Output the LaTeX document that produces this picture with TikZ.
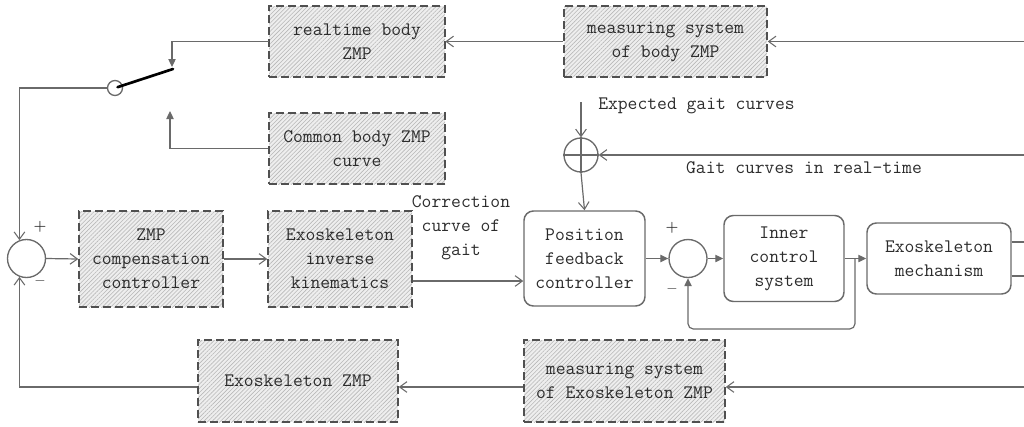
\documentclass[tikz,border=0pt]{standalone}
\usepackage{fontspec}
\usetikzlibrary{arrows.meta,patterns.meta,calc}

\definecolor{ink}{HTML}{2C2C2C}
\definecolor{wire}{HTML}{6A6A6A}
\definecolor{frame}{HTML}{505050}
\definecolor{hatchbg}{HTML}{EEEEEE}
\definecolor{hatchln}{HTML}{B8B8B8}

\tikzset{
  hbox/.style={draw=frame, line width=1.1pt, dash pattern=on 6pt off 3pt,
    preaction={fill=hatchbg},
    pattern={Lines[angle=45,distance=2.2pt,line width=0.45pt]}, pattern color=hatchln,
    text=ink, align=center, inner sep=0pt},
  rbox/.style={draw=wire, line width=1.1pt, rounded corners=7pt, fill=white,
    text=ink, align=center, inner sep=0pt},
  sumnode/.style={circle, draw=wire, line width=1pt, fill=white, inner sep=0pt, minimum size=28.5pt},
  wireline/.style={draw=wire, line width=0.9pt},
  openarr/.style={wireline, -{Straight Barb[length=5.5pt,width=8pt,line width=0.8pt]}},
  solidarr/.style={wireline, -{Triangle[length=6pt,width=5.5pt]}},
  lbl/.style={text=ink, align=center, inner sep=0pt},
  sign/.style={text=ink, inner sep=0pt, font=\fontsize{11pt}{11pt}\selectfont\bfseries},
}

\begin{document}
\begin{tikzpicture}[x=0.75pt, y=-0.75pt, font=\ttfamily\fontsize{14.3pt}{18pt}\selectfont]
\useasboundingbox (0,0) rectangle (1024,426);

% dashed hatched blocks
\node[hbox, minimum width=132pt,    minimum height=53.25pt] (rt)   at (357,41.5)   {realtime body\\ZMP};
\node[hbox, minimum width=152.25pt, minimum height=53.25pt] (msb)  at (665.5,41.5) {measuring system\\of body ZMP};
\node[hbox, minimum width=132pt,    minimum height=53.25pt] (cbz)  at (357,148.5)  {Common body ZMP\\curve};
\node[hbox, minimum width=108pt,    minimum height=72pt]    (zmpc) at (151,259)    {ZMP\\compensation\\controller};
\node[hbox, minimum width=108pt,    minimum height=72pt]    (eik)  at (340,259)    {Exoskeleton\\inverse\\kinematics};
\node[hbox, minimum width=150pt,    minimum height=61.5pt]  (ezmp) at (298,381)    {Exoskeleton ZMP};
\node[hbox, minimum width=150.75pt, minimum height=61.5pt]  (mse)  at (624.5,381)  {measuring system\\of Exoskeleton ZMP};

% rounded solid blocks
\node[rbox, minimum width=90.75pt, minimum height=71.25pt] (pfc)  at (584.5,258.5) {Position\\feedback\\controller};
\node[rbox, minimum width=90pt,    minimum height=64.5pt]  (ics)  at (784,258.5)   {Inner\\control\\system};
\node[rbox, minimum width=108pt,   minimum height=53.25pt] (mech) at (939,258.5)   {Exoskeleton\\mechanism};

% summing junctions
\node[sumnode] (sum1) at (26.5,258.5) {};
\node[sumnode] (sum2) at (688,258.5) {};
\node[sumnode, minimum size=25.5pt] (plus) at (581,155) {};
\draw[wire, line width=1pt] (plus.north) -- (plus.south) (plus.west) -- (plus.east);

% switch
\node[circle, draw=wire, line width=1pt, fill=white, inner sep=0pt, minimum size=11.25pt] (sw) at (115,88) {};
\coordinate (swT) at (173,69);
\coordinate (swA) at (172,67);
\coordinate (swB) at (170,111);
\draw[black, line width=2pt, line cap=round, shorten <=2pt] (sw.center) -- (swT);

% free ends at the right border
\coordinate (inB) at (1024,41.5);
\coordinate (inG) at (1024,155);
\coordinate (inE) at (1024,387);
\coordinate (o1)  at (1024,242);
\coordinate (o2)  at (1024,276);
\coordinate (eg)  at (581,102);
\coordinate (br)  at (855,258.5);
\coordinate (c1)  at ($(eik.east)+(0,22)$);

% labels
\node[lbl, anchor=west] (egl) at (598,106) {Expected gait curves};
\node[lbl] (gcl) at (804,168) {Gait curves in real-time};
\node[lbl] (ccl) at (461,228) {Correction\\curve of\\gait};
\node[sign] (p1) at (40,227) {+};
\node[sign] (m1) at (40,281) {$-$};
\node[sign] (p2) at (672,228) {+};
\node[sign] (m2) at (672,289) {$-$};

% top branch: body ZMP measurement and switch
\draw[openarr] (inB) -- (msb.east);
\draw[openarr] (msb.west) -- (rt.east);
\draw[solidarr] (rt.west) -| (swA);
\draw[solidarr] (cbz.west) -| (swB);
\draw[openarr] (sw.west) -| (sum1.111);

% main forward path
\draw[openarr] (sum1.east) -- (zmpc.west);
\draw[openarr] (zmpc.east) -- (eik.west);
\draw[openarr] (c1) -- (c1 -| pfc.west);
\draw[openarr] (eg) -- (plus.north);
\draw[openarr] (inG) -- (plus.east);
\draw[openarr] (plus.south) -- (pfc.north);
\draw[solidarr] (pfc.east) -- (sum2.west);
\draw[solidarr] (sum2.east) -- (ics.west);
\draw[solidarr] (ics.east) -- (mech.west);
\draw[solidarr, rounded corners=4pt] (br) -- ++(0,70.5) -| (sum2.south);
\draw[wireline] (o1 -| mech.east) -- (o1);
\draw[wireline] (o2 -| mech.east) -- (o2);

% bottom branch: exoskeleton ZMP feedback
\draw[openarr] (inE) -- (inE -| mse.east);
\draw[openarr] (inE -| mse.west) -- (inE -| ezmp.east);
\draw[openarr] (inE -| ezmp.west) -| (sum1.249);
\end{tikzpicture}
\end{document}
